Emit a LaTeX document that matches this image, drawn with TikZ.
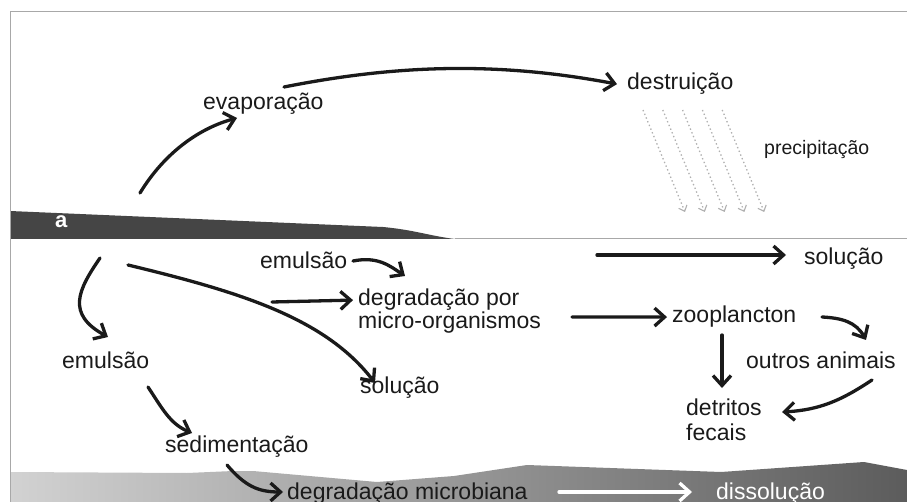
\documentclass[tikz,border=0pt]{standalone}
\usepackage{fontspec}
\setmainfont{Liberation Sans}
\newfontfamily\labelfont{Liberation Sans Bold}
\usetikzlibrary{arrows.meta,calc}
\definecolor{slickc}{HTML}{454545}
\definecolor{framec}{HTML}{A8A8A8}
\definecolor{sedL}{HTML}{D2D2D2}
\definecolor{sedR}{HTML}{5C5C5C}
\definecolor{rainc}{HTML}{B0B0B0}
\definecolor{inkc}{HTML}{1A1A1A}
\begin{document}
\begin{tikzpicture}[x=1pt,y=-1pt,
  txt/.style={font=\fontsize{23}{24}\selectfont, text=inkc, inner sep=0pt, anchor=base west},
  smalltxt/.style={font=\fontsize{19.5}{20}\selectfont, text=inkc, inner sep=0pt, anchor=base west},
  arr/.style={inkc, line width=3.3pt, line cap=round, -{Straight Barb[length=10pt,width=18pt,line width=3.3pt]}},
  warr/.style={arr, white},
  rain/.style={rainc, line width=1.3pt, dash pattern=on 1.4pt off 2.6pt, -{Straight Barb[length=5pt,width=9pt,line width=1.1pt]}},
  framel/.style={framec, line width=1pt}]
\useasboundingbox (0,0) rectangle (907,502);
% sediment
\shade[left color=sedL, right color=sedR] (10,472) -- (187,473) -- (233,471) -- (253,471) -- (377,482) -- (454,476) -- (527,465) -- (721,472) -- (864,462) -- (907,470) -- (907,502) -- (10,502) -- cycle;
% slick
\fill[slickc] (10,211) -- (383,227) .. controls (415,230) and (430,236) .. (455,239) -- (10,239) -- cycle;
% frame
\draw[framel] (10,502) -- (10,12) -- (907,12);
\draw[framel] (455,239) -- (907,239);
\node[font=\labelfont\fontsize{22}{22}\selectfont, text=white, inner sep=0pt, anchor=base west] (lbla) at (55,228) {a};
% texts
\node[txt] (evap) at (203,110) {evaporação};
\node[txt] (dest) at (627,90) {destruição};
\node[smalltxt] (precip) at (764,155) {precipitação};
\node[txt] (emL) at (62,368) {emulsão};
\node[txt] (sed) at (165,452) {sedimentação};
\node[txt] (emT) at (260,269) {emulsão};
\node[txt] (degA) at (358,306) {degradação por};
\node[txt] (degB) at (358,329) {micro-organismos};
\node[txt] (solM) at (360,393) {solução};
\node[txt] (solR) at (804,265) {solução};
\node[txt] (zoo) at (672,323) {zooplancton};
\node[txt] (outros) at (746,368) {outros animais};
\node[txt] (detA) at (686,415) {detritos};
\node[txt] (detB) at (686,440) {fecais};
\node[txt] (degmic) at (287,499) {degradação microbiana};
\node[txt, text=white] (diss) at (716,499) {dissolução};
% coordinates
\coordinate (slickA) at (140,193);
\coordinate (evapIn) at (237,118);
\coordinate (evapOut) at (284,87);
\coordinate (oilB) at (100,258);
\coordinate (emLin) at (108,337);
\coordinate (oilC) at (128,265);
\coordinate (solMin) at (375,383);
\coordinate (emTout) at (353,261);
\coordinate (degAin) at (405,276);
\coordinate (hzStart) at (272,302);
\coordinate (solRstart) at (597,255);
\coordinate (solRin) at (786,255);
\coordinate (degOut) at (572,317);
\coordinate (zooOut) at (822,317);
\coordinate (outIn) at (866,340);
\coordinate (zooDn) at (722,335);
\coordinate (detIn) at (722,388);
\coordinate (outOut) at (872,380);
\coordinate (detIn2) at (782,412);
\coordinate (emLout) at (148,387);
\coordinate (sedIn) at (192,433);
\coordinate (sedOut) at (227,465);
\coordinate (degmicIn) at (283,492);
\coordinate (whiteS) at (559,492);
\coordinate (whiteE) at (692,492);
% connectors
\draw[arr] (slickA) .. controls (165,152) and (200,128) .. (evapIn);
\draw[arr] (evapOut) .. controls (400,64) and (500,62) .. ([xshift=-10pt]dest.west);
\foreach \i in {0,...,4} {
  \draw[rain] ($(643,110)+(19.8*\i,0)$) -- ($(685,212)+(19.8*\i,0)$);
}
\draw[arr] (oilB) .. controls (78,290) and (66,314) .. (emLin);
\draw[arr] (emLout) .. controls (162,408) and (170,424) .. (sedIn);
\draw[arr] (sedOut) .. controls (245,486) and (258,492) .. (degmicIn);
\draw[arr] (oilC) .. controls (240,292) and (325,318) .. (solMin);
\draw[arr] (emTout) .. controls (378,256) and (390,266) .. (degAin);
\draw[arr] (hzStart) -- ([xshift=-5pt]degA.west);
\draw[arr] (solRstart) -- (solRin);
\draw[arr] (degOut) -- ([xshift=-5pt]zoo.west);
\draw[arr] (zooOut) .. controls (842,318) and (856,322) .. (outIn);
\draw[arr] (zooDn) -- (detIn);
\draw[arr] (outOut) .. controls (842,400) and (820,410) .. (detIn2);
\draw[warr] (whiteS) -- (whiteE);
\end{tikzpicture}
\end{document}
